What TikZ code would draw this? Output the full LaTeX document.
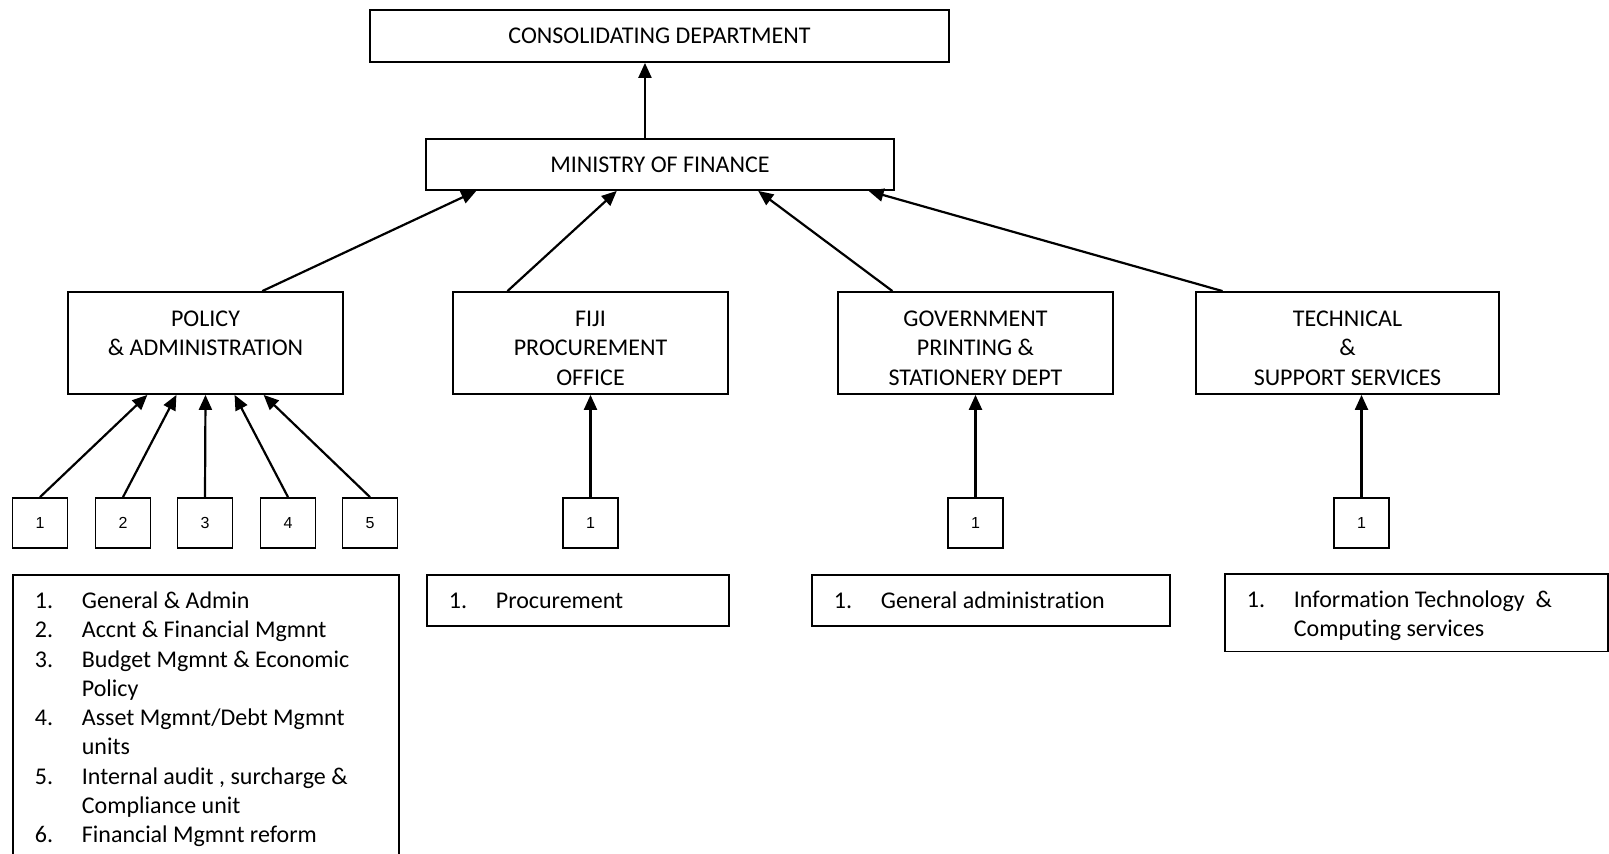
\documentclass[tikz,border=0pt]{standalone}
\usepackage{fontspec}
\setmainfont[Ligatures=NoCommon]{Carlito}
\newfontfamily\numfont{Liberation Sans}
\usepackage{array}
\usetikzlibrary{arrows.meta}
\usetikzlibrary{calc}
\tikzset{>={Triangle[length=15pt,width=13pt]}}
\tikzset{unitbox/.style={draw, line width=1.8pt, inner sep=0pt, align=center, font=\fontsize{24}{29.3}\selectfont}}
\tikzset{numbox/.style={draw, line width=1.8pt, minimum width=55pt, minimum height=50pt, inner sep=0pt, font=\numfont\fontsize{16}{19}\selectfont}}
\tikzset{listbox/.style={draw, line width=1.8pt, anchor=north west, inner xsep=22pt, inner ysep=5pt, text height=28.5pt, font=\fontsize{24}{29.3}\selectfont}}
\tikzset{link/.style={->, line width=2.2pt}}
\newcommand{\unitname}[1]{\raisebox{-7pt}[\height][\depth]{\begin{tabular}{@{}c@{}}#1\end{tabular}}}
\newcommand{\unitlist}[2]{\begin{tabular}[t]{@{}p{47pt}@{}>{\raggedright\arraybackslash}p{#1}@{}}#2\end{tabular}}

\begin{document}
\begin{tikzpicture}[x=1pt, y=-1pt]
\clip (0,0) rectangle (1609,854);
\node[unitbox, minimum width=579pt, minimum height=52pt] (cons) at (659.5,36) {CONSOLIDATING DEPARTMENT};
\node[unitbox, minimum width=468pt, minimum height=51pt] (mof) at (660,164.5) {MINISTRY OF FINANCE};
% divisions
\node[unitbox, minimum width=275pt, minimum height=102pt] (policy) at (205.5,343) {\unitname{POLICY\\\& ADMINISTRATION\\\mbox{}}};
\node[unitbox, minimum width=275pt, minimum height=102pt] (fiji) at (590.5,343) {\unitname{FIJI\\PROCUREMENT\\OFFICE}};
\node[unitbox, minimum width=275pt, minimum height=102pt] (gov) at (975.5,343) {\unitname{GOVERNMENT\\PRINTING \&\\STATIONERY DEPT}};
\node[unitbox, minimum width=303pt, minimum height=102pt] (tech) at (1347.5,343) {\unitname{TECHNICAL\\\&\\SUPPORT SERVICES}};
% numbered units
\foreach \n/\x in {1/40,2/123,3/205,4/288,5/370}
  \node[numbox] (p\n) at (\x,523) {\n};
\node[numbox] (f1) at (590.5,523) {1};
\node[numbox] (g1) at (975.5,523) {1};
\node[numbox] (t1) at (1361.5,523) {1};
% unit lists
\node[listbox, text depth=300pt] (plist) at (12,574) {\unitlist{295pt}{1. & General \& Admin\\ 2. & Accnt \& Financial Mgmnt\\ 3. & Budget Mgmnt \& Economic Policy\\ 4. & Asset Mgmnt/Debt Mgmnt units\\ 5. & Internal audit , surcharge \& Compliance unit\\ 6. & Financial Mgmnt reform}};
\node[listbox, text depth=12.5pt] (flist) at (426,574) {\unitlist{211pt}{1. & Procurement}};
\node[listbox, text depth=12.5pt] (glist) at (811,574) {\unitlist{267pt}{1. & General administration}};
\node[listbox, text depth=39pt] (tlist) at (1224,573) {\unitlist{292pt}{1. & Information Technology~~\& Computing services}};
% arrows
\coordinate (mtop) at ($(mof.north west)!0.468!(mof.north east)$);
\draw[link] (mtop) -- (mtop |- cons.south);
\draw[link] ($(policy.north west)!0.705!(policy.north east)$) -- ($(mof.south west)!0.109!(mof.south east)$);
\draw[link] ($(fiji.north west)!0.2!(fiji.north east)$) -- ($(mof.south west)!0.408!(mof.south east)$);
\draw[link] ($(gov.north west)!0.2!(gov.north east)$) -- ($(mof.south west)!0.709!(mof.south east)$);
\draw[link] ($(tech.north west)!0.09!(tech.north east)$) -- ($(mof.south west)!0.944!(mof.south east)$);
\foreach \n/\f in {1/0.29,2/0.395,3/0.5,4/0.605,5/0.71}
  \draw[link] (p\n.north) -- ($(policy.south west)!\f!(policy.south east)$);
\draw[link] (f1.north) -- (fiji.south);
\draw[link] (g1.north) -- (gov.south);
\draw[link] (t1.north) -- (t1.north |- tech.south);
\end{tikzpicture}
\end{document}
